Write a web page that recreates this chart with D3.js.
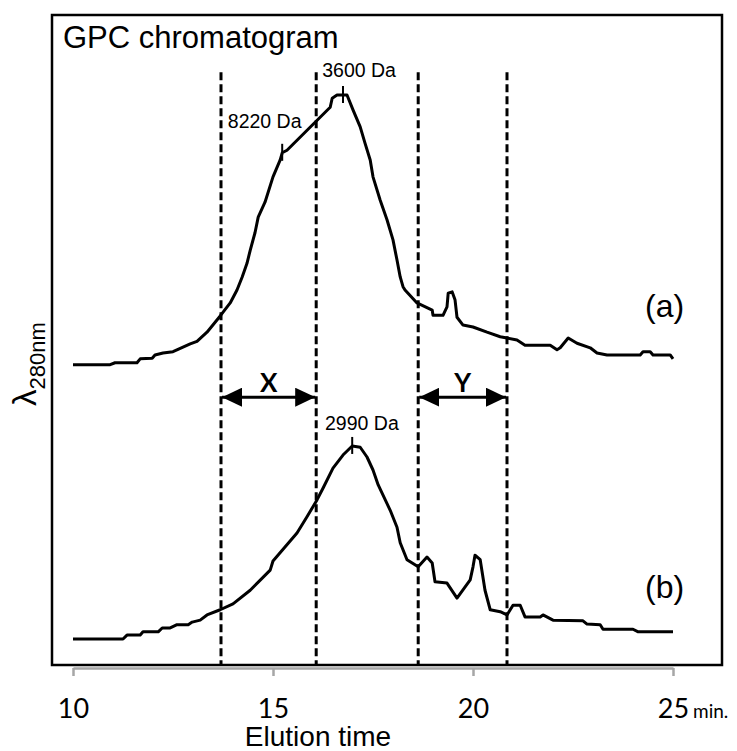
<!DOCTYPE html>
<html><head><meta charset="utf-8">
<script src="https://cdn.jsdelivr.net/npm/d3@7"></script>
<style>body{margin:0;background:#fff}</style>
</head><body>
<script>
// ---- data ----
const timeA = [10.0,10.93,11.05,11.6,11.68,11.98,12.05,12.25,12.5,12.75,12.93,13.1,13.35,13.68,13.93,14.1,14.23,14.35,14.43,14.55,14.63,14.8,15.0,15.18,15.23,15.35,16.43,16.48,16.6,16.85,17.0,17.18,17.3,17.43,17.5,17.68,17.85,18.0,18.1,18.18,18.25,18.3,18.6,18.98,19.0,19.25,19.35,19.38,19.48,19.55,19.6,19.75,20.0,20.35,20.68,20.85,21.1,21.3,21.93,22.1,22.18,22.38,22.6,22.93,23.1,23.35,24.18,24.25,24.43,24.5,24.93,25.0];
const signalA = [46.2,46.2,46.5,46.5,47.1,47.2,47.7,48.0,48.2,48.9,49.4,49.8,51.2,53.7,55.7,57.7,59.7,61.8,63.8,66.5,68.9,71.2,75.1,77.7,78.8,79.2,85.8,87.2,87.7,87.7,85.4,82.8,80.3,77.7,75.1,71.5,68.5,65.4,62.3,59.7,58.2,57.7,55.7,54.6,53.8,53.8,55.1,57.2,57.4,56.2,53.5,52.3,52.0,51.2,50.5,50.3,50.0,49.2,49.2,48.5,48.8,50.3,49.5,48.8,48.0,47.7,47.7,48.2,48.2,47.7,47.7,47.1];
const timeB = [10.0,11.25,11.35,11.68,11.75,12.13,12.23,12.43,12.6,12.88,12.98,13.18,13.35,13.68,14.0,14.43,14.93,15.0,15.6,15.85,16.1,16.25,16.5,16.75,16.98,17.18,17.35,17.5,17.63,17.93,18.1,18.18,18.35,18.63,18.85,18.98,19.05,19.35,19.6,19.93,20.0,20.05,20.18,20.3,20.43,20.68,20.85,21.0,21.18,21.3,21.68,21.75,22.0,22.75,22.85,23.18,23.25,24.0,24.13,25.0];
const signalB = [4.0,4.0,4.6,4.6,5.1,5.1,5.7,5.7,6.2,6.2,6.6,6.9,7.7,8.5,9.4,11.5,14.6,16.0,20.3,22.8,25.4,27.2,30.3,32.3,33.7,33.5,32.0,30.0,27.7,23.8,21.2,18.8,16.2,15.1,16.6,15.7,12.8,12.6,10.3,13.1,15.1,16.9,16.2,11.5,8.5,8.2,7.7,9.2,9.2,7.4,7.4,7.7,6.9,6.8,6.3,6.2,5.5,5.5,5.1,5.1];
const tickValues = [10, 15, 20, 25];
const boundaries = [13.7, 16.08, 18.63, 20.85];
const rangeLabels = ["X", "Y"];
const peakTimes = [15.23, 16.75, 16.98];
const peakLevels = [78.8, 87.7, 33.7];
const peakLabels = ["8220 Da", "3600 Da", "2990 Da"];
const curveLabels = ["(a)", "(b)"];

// ---- layout ----
const W = 737, H = 751;
const frame = {l: 52, t: 15, r: 722, b: 665};
const svg = d3.select("body").append("svg").attr("width", W).attr("height", H);

const x = d3.scaleLinear().domain([10, 25]).range([73, 673]);
const y = d3.scaleLinear().domain([0, 100]).range([frame.b, frame.t]);

// axis (gray)
const axis = svg.append("g").attr("transform", `translate(0,${frame.b + 3})`)
  .call(d3.axisBottom(x).tickValues(tickValues).tickSize(8).tickSizeOuter(0).tickFormat(d3.format("d")));
axis.select(".domain").attr("stroke", "#a6a6a6").attr("stroke-width", 2.5);
axis.selectAll(".tick line").attr("stroke", "#a6a6a6").attr("stroke-width", 2.5);
axis.selectAll(".tick text").attr("font-family", "Lato, 'Open Sans', sans-serif")
  .attr("font-size", 27).attr("fill", "#000").attr("y", 50).attr("dy", null);

svg.append("text").attr("x", x(25) + 20).attr("y", 718)
  .attr("font-family", "Lato, 'Open Sans', sans-serif").attr("font-size", 19).text("min.");

// frame
svg.append("rect").attr("x", frame.l).attr("y", frame.t)
  .attr("width", frame.r - frame.l).attr("height", frame.b - frame.t)
  .attr("fill", "none").attr("stroke", "#000").attr("stroke-width", 2.5);

// dashed boundaries
svg.selectAll(".bnd").data(boundaries).join("line")
  .attr("x1", d => x(d)).attr("x2", d => x(d))
  .attr("y1", y(91.2)).attr("y2", y(0))
  .attr("stroke", "#000").attr("stroke-width", 3).attr("stroke-dasharray", "8,4");

// curves
const line = d3.line().x(d => x(d[0])).y(d => y(d[1]));
const seriesA = timeA.map((t, i) => [t, signalA[i]]);
const seriesB = timeB.map((t, i) => [t, signalB[i]]);
[seriesA, seriesB].forEach(s => {
  svg.append("path").datum(s).attr("d", line)
    .attr("fill", "none").attr("stroke", "#000").attr("stroke-width", 3)
    .attr("stroke-linejoin", "round");
});

// peak ticks and labels
const font = "Arial, 'Liberation Sans', sans-serif";
peakTimes.forEach((t, i) => {
  const px = x(t), py = y(peakLevels[i]);
  svg.append("line").attr("x1", px).attr("x2", px).attr("y1", py - 9).attr("y2", py + 8)
    .attr("stroke", "#000").attr("stroke-width", 2);
});
const labelPos = [[x(13.87), y(82.6)], [x(16.23), y(90.5)], [x(16.3), y(36.2)]];
peakLabels.forEach((s, i) => {
  svg.append("text").attr("x", labelPos[i][0]).attr("y", labelPos[i][1])
    .attr("font-family", font).attr("font-size", 19.5).text(s);
});

// arrows
const arrowLevel = 41.2;
const defs = svg.append("defs");
[["arrEnd", "M0,0 L20,9.5 L0,19 Z", 20], ["arrStart", "M20,0 L0,9.5 L20,19 Z", 0]].forEach(([id, p, rx]) => {
  defs.append("marker").attr("id", id).attr("viewBox", "0 0 20 19")
    .attr("markerWidth", 20).attr("markerHeight", 19).attr("refX", rx).attr("refY", 9.5)
    .attr("markerUnits", "userSpaceOnUse").attr("orient", "0")
    .append("path").attr("d", p).attr("fill", "#000");
});
[[boundaries[0], boundaries[1]], [boundaries[2], boundaries[3]]].forEach((pr, i) => {
  svg.append("line").attr("x1", x(pr[0]) + 1).attr("x2", x(pr[1]) - 1)
    .attr("y1", y(arrowLevel)).attr("y2", y(arrowLevel))
    .attr("stroke", "#000").attr("stroke-width", 3)
    .attr("marker-start", "url(#arrStart)").attr("marker-end", "url(#arrEnd)");
  svg.append("text").attr("x", (x(pr[0]) + x(pr[1])) / 2).attr("y", y(arrowLevel) - 5)
    .attr("text-anchor", "middle").attr("font-family", "Lato, Arial, sans-serif")
    .attr("font-weight", "bold").attr("font-size", 26).text(rangeLabels[i]);
});

// curve labels
const curveLabelPos = [[x(24.3), y(53.6)], [x(24.3), y(10.3)]];
curveLabels.forEach((s, i) => {
  svg.append("text").attr("x", curveLabelPos[i][0]).attr("y", curveLabelPos[i][1])
    .attr("font-family", font).attr("font-size", 32).text(s);
});

// title
svg.append("text").attr("x", 63).attr("y", 48).attr("font-family", font)
  .attr("font-size", 31).text("GPC chromatogram");

// x title
svg.append("text").attr("x", 318).attr("y", 746).attr("text-anchor", "middle")
  .attr("font-family", font).attr("font-size", 28).text("Elution time");

// y title
const yt = svg.append("text").attr("transform", "translate(36,364) rotate(-90)")
  .attr("text-anchor", "middle").attr("font-family", font);
yt.append("tspan").attr("font-size", 33).text("λ");
yt.append("tspan").attr("font-size", 22).attr("dy", 9).text("280nm");
</script>
</body></html>
